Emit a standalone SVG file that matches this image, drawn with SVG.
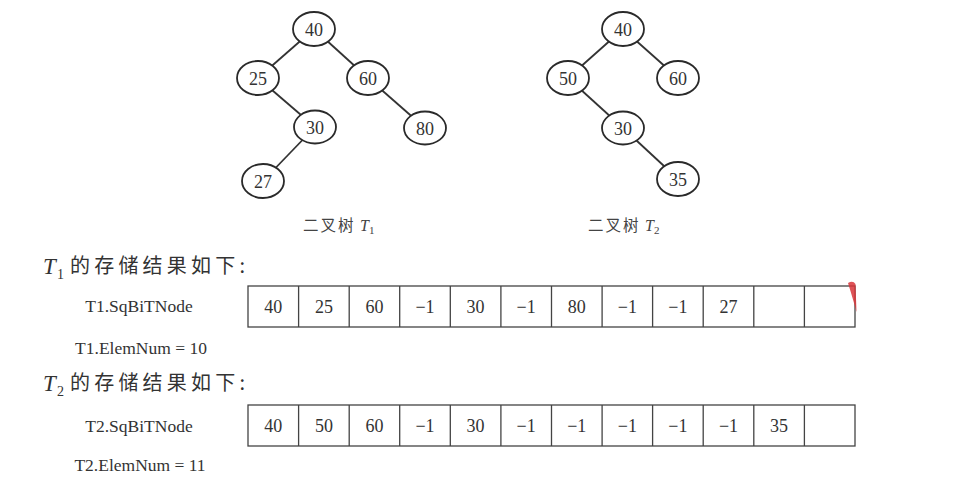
<svg xmlns="http://www.w3.org/2000/svg" width="956" height="481" viewBox="0 0 956 481">
<style>
.edge{stroke:#333;stroke-width:1.8;fill:none}
.node ellipse{fill:#fff;stroke:#2a2a2a;stroke-width:1.8}
.num{font-family:"Liberation Serif",serif;font-size:18px;fill:#333;text-anchor:middle}
.cell{fill:none;stroke:#444;stroke-width:1.3}
.lbl{font-family:"Liberation Serif",serif;font-size:17.5px;fill:#333;text-anchor:middle}
.cap{font-family:"Noto Sans CJK SC",sans-serif;font-size:15.5px;fill:#444;letter-spacing:2px}
.capT{font-family:"Liberation Serif",serif;font-style:italic;font-size:16px;fill:#444}
.sub{font-family:"Liberation Serif",serif;font-style:normal;font-size:11px;fill:#444}
.head{font-family:"Noto Sans CJK SC",sans-serif;font-size:20px;fill:#333;letter-spacing:4.2px}
.headT{font-family:"Liberation Serif",serif;font-style:italic;font-size:23px;fill:#333}
.headSub{font-family:"Liberation Serif",serif;font-size:14px;fill:#333}
</style>
<rect width="956" height="481" fill="#fff"/>
<g id="connectors">
<line class="edge" x1="314" y1="29" x2="258" y2="78"/>
<line class="edge" x1="314" y1="29" x2="368" y2="78"/>
<line class="edge" x1="258" y1="78" x2="315" y2="127"/>
<line class="edge" x1="368" y1="78" x2="425" y2="128"/>
<line class="edge" x1="315" y1="127" x2="263" y2="181"/>
<line class="edge" x1="623" y1="29" x2="568" y2="78"/>
<line class="edge" x1="623" y1="29" x2="678" y2="78"/>
<line class="edge" x1="568" y1="78" x2="623" y2="128"/>
<line class="edge" x1="623" y1="128" x2="678" y2="179"/>
</g>
<g id="t1-40" class="node"><ellipse cx="314" cy="29" rx="21" ry="17"/><text class="num" x="314" y="35.5">40</text></g>
<g id="t1-25" class="node"><ellipse cx="258" cy="78" rx="21" ry="17"/><text class="num" x="258" y="84.5">25</text></g>
<g id="t1-60" class="node"><ellipse cx="368" cy="78" rx="21" ry="17"/><text class="num" x="368" y="84.5">60</text></g>
<g id="t1-30" class="node"><ellipse cx="315" cy="127" rx="21" ry="16.5"/><text class="num" x="315" y="133.5">30</text></g>
<g id="t1-80" class="node"><ellipse cx="425" cy="128" rx="21" ry="16.5"/><text class="num" x="425" y="134.5">80</text></g>
<g id="t1-27" class="node"><ellipse cx="263" cy="181" rx="21" ry="17"/><text class="num" x="263" y="187.5">27</text></g>
<g id="t2-40" class="node"><ellipse cx="623" cy="29" rx="21" ry="17"/><text class="num" x="623" y="35.5">40</text></g>
<g id="t2-50" class="node"><ellipse cx="568" cy="78" rx="21" ry="17"/><text class="num" x="568" y="84.5">50</text></g>
<g id="t2-60" class="node"><ellipse cx="678" cy="78" rx="21" ry="17"/><text class="num" x="678" y="84.5">60</text></g>
<g id="t2-30" class="node"><ellipse cx="623" cy="128" rx="21" ry="16.5"/><text class="num" x="623" y="134.5">30</text></g>
<g id="t2-35" class="node"><ellipse cx="678" cy="179" rx="21" ry="17"/><text class="num" x="678" y="185.5">35</text></g>
<g id="caption1"><text class="cap" x="303" y="231">二叉树</text><text class="capT" x="360" y="231">T</text><text class="sub" x="369" y="234">1</text></g>
<g id="caption2"><text class="cap" x="588" y="231">二叉树</text><text class="capT" x="645" y="231">T</text><text class="sub" x="654" y="234">2</text></g>
<g id="heading1"><text class="headT" x="43" y="274">T</text><text class="headSub" x="57" y="279">1</text><text class="head" x="70" y="273">的存储结果如下:</text></g>
<g id="heading2"><text class="headT" x="43" y="391">T</text><text class="headSub" x="57" y="396">2</text><text class="head" x="70" y="390">的存储结果如下:</text></g>
<g id="array1">
<text class="lbl" x="139" y="312">T1.SqBiTNode</text>
<rect class="cell" x="248" y="286" width="607" height="41"/>
<path class="cell" d="M298.6,286V327M349.2,286V327M399.7,286V327M450.3,286V327M500.9,286V327M551.5,286V327M602.1,286V327M652.6,286V327M703.2,286V327M753.8,286V327M804.4,286V327"/>
<text class="num" x="273.3" y="312.5">40</text>
<text class="num" x="323.9" y="312.5">25</text>
<text class="num" x="374.5" y="312.5">60</text>
<text class="num" x="425" y="312.5">−1</text>
<text class="num" x="475.6" y="312.5">30</text>
<text class="num" x="526.2" y="312.5">−1</text>
<text class="num" x="576.8" y="312.5">80</text>
<text class="num" x="627.4" y="312.5">−1</text>
<text class="num" x="677.9" y="312.5">−1</text>
<text class="num" x="728.5" y="312.5">27</text>
<text class="lbl" x="141" y="354">T1.ElemNum = 10</text>
<path d="M848,283 Q853,280 855.5,284 L856.5,312 Q853,299 848,283 Z" fill="#d8353a" opacity="0.85"/>
</g>
<g id="array2">
<text class="lbl" x="139" y="432">T2.SqBiTNode</text>
<rect class="cell" x="248" y="405" width="607" height="41"/>
<path class="cell" d="M298.6,405V446M349.2,405V446M399.7,405V446M450.3,405V446M500.9,405V446M551.5,405V446M602.1,405V446M652.6,405V446M703.2,405V446M753.8,405V446M804.4,405V446"/>
<text class="num" x="273.3" y="432">40</text>
<text class="num" x="323.9" y="432">50</text>
<text class="num" x="374.5" y="432">60</text>
<text class="num" x="425" y="432">−1</text>
<text class="num" x="475.6" y="432">30</text>
<text class="num" x="526.2" y="432">−1</text>
<text class="num" x="576.8" y="432">−1</text>
<text class="num" x="627.4" y="432">−1</text>
<text class="num" x="677.9" y="432">−1</text>
<text class="num" x="728.5" y="432">−1</text>
<text class="num" x="779.1" y="432">35</text>
<text class="lbl" x="140" y="471">T2.ElemNum = 11</text>
</g>
</svg>
